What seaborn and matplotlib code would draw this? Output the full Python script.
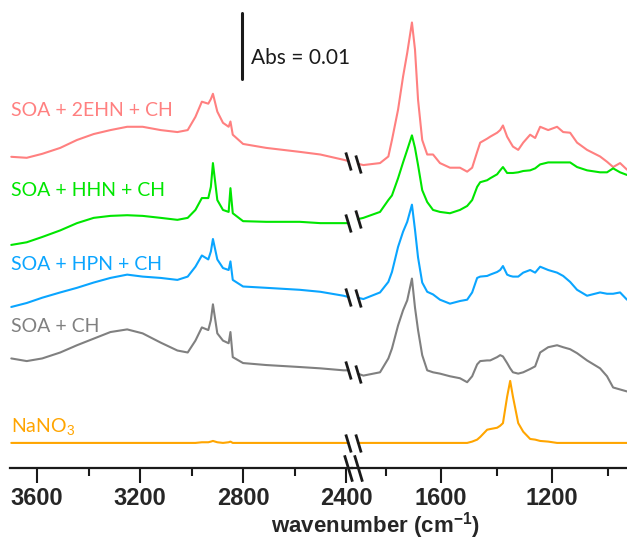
import numpy as np
import matplotlib
matplotlib.use("Agg")
import matplotlib.pyplot as plt
import seaborn as sns

# wavenumbers (cm-1) for the two parts of the broken axis
wn_left = [3700, 3640, 3580, 3510, 3445, 3380, 3315, 3250, 3190, 3120, 3055, 3015, 2985, 2960,
           2935, 2925, 2917, 2900, 2878, 2856, 2849, 2840, 2800, 2710, 2580, 2500, 2410, 2390]
wn_right = [1900, 1880, 1820, 1790, 1777, 1755, 1737, 1722, 1705, 1694, 1683, 1668, 1650, 1629,
            1604, 1568, 1532, 1506, 1488, 1470, 1459, 1434, 1423, 1398, 1387, 1377, 1362, 1351,
            1341, 1322, 1304, 1279, 1261, 1243, 1214, 1182, 1160, 1135, 1110, 1074, 1027, 1002,
            980, 955, 930]

# absorbance in mAbs, relative to each trace's level near 2400 cm-1
ehn_left = [0.45, 0.3, 0.9, 1.8, 3.0, 3.9, 4.5, 5.0, 5.0, 4.5, 4.2, 4.5, 6.5, 8.8, 8.5, 9.2, 10.0,
            7.3, 5.6, 5.0, 5.8, 3.8, 2.4, 1.8, 1.2, 0.8, 0.0, -0.2]
ehn_right = [-0.6, -0.8, -0.5, 0.5, 3.0, 7.6, 12.6, 16.2, 20.8, 16.7, 9.1, 3.0, 0.8, 0.8, -0.5,
             -1.2, -1.2, -1.8, -1.2, 1.2, 2.6, 3.2, 3.5, 4.1, 4.5, 5.2, 3.5, 2.7, 2.0, 1.5, 2.6,
             3.8, 3.3, 5.0, 4.5, 5.0, 4.2, 4.1, 2.6, 1.5, 0.5, -0.3, -1.1, -0.5, -1.5]

hhn_left = [-3.3, -2.9, -2.1, -1.1, 0.0, 0.8, 1.1, 1.2, 1.1, 0.8, 0.5, 0.8, 2.0, 3.8, 3.8, 5.5, 9.1,
            3.5, 2.0, 1.7, 5.3, 1.5, 0.3, 0.2, 0.2, 0.0, 0.0, 0.0]
hhn_right = [0.6, 0.8, 1.7, 3.5, 4.2, 6.8, 9.2, 11.1, 13.3, 11.4, 8.8, 5.0, 3.2, 2.0, 1.7, 1.5, 2.0,
             2.6, 3.5, 5.5, 6.2, 6.5, 6.8, 7.4, 8.0, 8.5, 7.6, 7.6, 7.6, 7.7, 7.9, 8.0, 8.3, 8.9,
             9.2, 9.2, 9.2, 9.2, 8.5, 8.0, 7.7, 7.7, 8.3, 7.7, 7.3]

hpn_left = [-1.7, -1.1, -0.3, 0.5, 1.2, 2.0, 2.7, 3.2, 2.9, 2.7, 2.4, 2.9, 4.4, 6.1, 5.5, 6.7, 8.6,
            5.5, 4.2, 3.9, 5.2, 2.4, 1.4, 1.2, 0.9, 0.6, 0.0, -0.2]
hpn_right = [-0.3, -0.5, 0.5, 2.1, 3.6, 7.4, 9.7, 11.2, 13.8, 10.0, 5.8, 2.0, 0.6, 0.2, -0.6, -1.2,
             -0.8, -0.6, 0.5, 2.7, 2.9, 3.0, 3.2, 3.6, 3.9, 4.5, 3.2, 3.0, 2.9, 2.9, 3.5, 3.9, 3.5,
             4.4, 3.9, 3.5, 3.0, 2.1, 0.9, 0.0, 0.5, 0.3, 0.3, 0.5, -0.6]

ch_left = [1.8, 1.4, 1.8, 2.7, 3.8, 4.8, 5.8, 6.2, 5.6, 4.2, 3.0, 2.7, 4.5, 6.5, 6.1, 7.6, 10.0,
           5.6, 4.5, 4.1, 5.8, 2.0, 1.1, 0.8, 0.5, 0.3, 0.0, 0.0]
ch_right = [-0.5, -0.8, -0.3, 1.8, 3.3, 6.8, 9.1, 10.6, 13.9, 9.5, 6.1, 2.3, 0.0, -0.3, -0.5, -0.9,
            -1.2, -1.8, -0.9, 0.9, 1.4, 1.5, 1.5, 2.0, 2.3, 2.1, 1.1, 0.3, -0.3, -0.5, -0.3, 0.2,
            0.6, 2.7, 3.5, 3.8, 3.5, 3.2, 2.6, 1.5, 0.3, -0.9, -2.6, -2.9, -3.2]

nano3_left = [0, 0, 0, 0, 0, 0, 0, 0, 0, 0, 0, 0, 0, 0.1, 0.1, 0.2, 0.3, 0.1, 0, 0.1, 0.2, 0, 0, 0,
              0, 0, 0, 0]
nano3_right = [0, 0, 0, 0, 0, 0, 0, 0, 0, 0, 0, 0, 0, 0, 0, 0, 0, 0, 0.2, 0.5, 0.9, 2.0, 2.1, 2.3,
               2.6, 3.0, 7.0, 9.4, 7.0, 3.0, 1.7, 0.6, 0.5, 0.3, 0.2, 0, 0, 0, 0, 0, 0, 0, 0, 0, 0]

labels = ["SOA + 2EHN + CH", "SOA + HHN + CH", "SOA + HPN + CH", "SOA + CH", "NaNO$_3$"]
colors = ["#ff8080", "#00e600", "#0aa5ff", "#808080", "#ffa500"]
offsets = [46.7, 37.1, 26.1, 14.8, 3.8]   # stacking (mAbs)
label_y = [54.2, 42.1, 30.8, 21.4, 6.1]

lefts = [ehn_left, hhn_left, hpn_left, ch_left, nano3_left]
rights = [ehn_right, hhn_right, hpn_right, ch_right, nano3_right]

sns.set_theme(style="white")
plt.rcParams["font.family"] = ["Lato", "DejaVu Sans"]
plt.rcParams["mathtext.fontset"] = "custom"
plt.rcParams["mathtext.rm"] = "Liberation Sans"
plt.rcParams["mathtext.bf"] = "Liberation Sans:bold"

W, H = 627, 542
fig = plt.figure(figsize=(W / 100, H / 100), dpi=100)
bot = 1 - 468 / H
axL = fig.add_axes([10 / W, bot, 342 / W, 1 - bot])
axR = fig.add_axes([352 / W, bot, 275 / W, 1 - bot])

for yl, yr, off, c in zip(lefts, rights, offsets, colors):
    yl = np.array(yl) + off
    yr = np.array(yr) + off
    sns.lineplot(x=wn_left, y=yl, ax=axL, color=c, lw=1.5, sort=False)
    sns.lineplot(x=wn_right, y=yr, ax=axR, color=c, lw=1.5, sort=False)
    # break marks on each trace
    mk = [(-0.3, 1), (0.3, -1)]
    axL.plot([2394], [yl[-1]], marker=mk, ms=13, mew=2, color="k", ls="none", zorder=5)
    axR.plot([1898], [yr[0]], marker=mk, ms=13, mew=2, color="k", ls="none", zorder=5)

ymax = 468 / 6.6
for ax in (axL, axR):
    ax.set_ylim(0, ymax)
    ax.set_yticks([])
    ax.set_ylabel("")
    for s in ("left", "right", "top"):
        ax.spines[s].set_visible(False)
    ax.spines["bottom"].set_linewidth(1.6)
    ax.spines["bottom"].set_color("k")
    ax.tick_params(axis="x", which="major", direction="out", length=11, width=1.5,
                   color="k", bottom=True, labelsize=17, pad=3)
    ax.tick_params(axis="x", which="minor", direction="out", length=6, width=1.5,
                   color="k", bottom=True)
    ax.patch.set_alpha(0)

axL.set_xlim(3705, 2377)
axR.set_xlim(1921, 930)
axL.set_xticks([3600, 3200, 2800, 2400])
axL.set_xticks([3400, 3000, 2600], minor=True)
axR.set_xticks([1600, 1200])
axR.set_xticks([1800, 1400, 1000], minor=True)
for ax in (axL, axR):
    for t in ax.get_xticklabels():
        t.set_fontfamily("Liberation Sans")
        t.set_fontweight("bold")

# break marks on the axis
mk = [(-0.3, 1), (0.3, -1)]
axL.plot([2394], [0], marker=mk, ms=19, mew=2, color="k", ls="none", clip_on=False, zorder=6)
axR.plot([1898], [0], marker=mk, ms=19, mew=2, color="k", ls="none", clip_on=False, zorder=6)

for lab, y, c in zip(labels, label_y, colors):
    axL.text(3700, y, lab, color=c, fontsize=14, va="center", ha="left")

# scale bar
axL.plot([2805, 2805], [58.9, 68.9], color="k", lw=2.2)
axL.text(2768, 62.1, "Abs = 0.01", fontsize=15, va="center", ha="left", color="k")

fig.text(375 / W, 1 / H, r"wavenumber (cm$^{\mathbf{-1}}$)", ha="center", va="bottom",
         fontsize=16, fontweight="bold", family="Liberation Sans")

fig.savefig("out.png", dpi=100)
